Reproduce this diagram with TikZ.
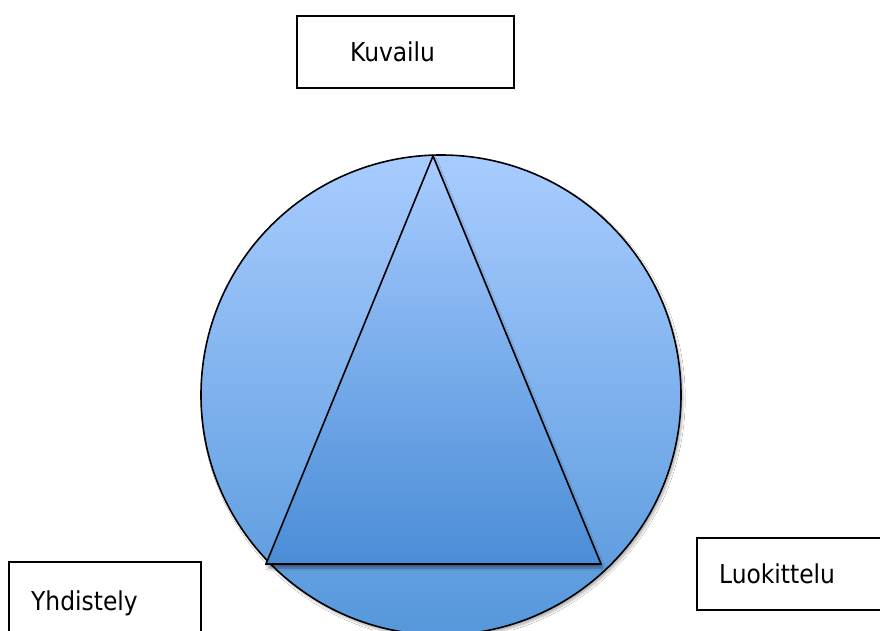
\documentclass[tikz,border=0pt]{standalone}
\usepackage{fontspec}
\setmainfont{DejaVu Sans Condensed}
\usetikzlibrary{shadows.blur}
\definecolor{topblue}{HTML}{A8CCFF}
\definecolor{circbot}{HTML}{5597DB}
\definecolor{tribot}{HTML}{4A8DD7}
\tikzset{
  labelbox/.style={draw=black, line width=1.6pt, fill=white},
  labeltext/.style={anchor=base west, inner sep=0pt, font=\fontsize{26}{30}\selectfont},
}
\begin{document}
\begin{tikzpicture}[x=1pt,y=1pt]
\useasboundingbox (0,0) rectangle (880,630);
\clip (0,0) rectangle (880,630);
\fill[white] (0,0) rectangle (880,630);
% circle
\shade[top color=topblue, bottom color=circbot, blur shadow={shadow xshift=2pt, shadow yshift=-3pt, shadow blur steps=6, shadow opacity=30}] (441,235) circle (240);
\draw[line width=1.6pt] (441,235) circle (240);
% triangle
\coordinate (apex) at (433,474);
\coordinate (bl) at (266,66);
\coordinate (br) at (601,66);
\shade[top color=topblue, bottom color=tribot, blur shadow={shadow xshift=2pt, shadow yshift=-4pt, shadow blur steps=6, shadow opacity=40}] (apex) -- (br) -- (bl) -- cycle;
\draw[line width=1.6pt, line join=miter] (apex) -- (br) -- (bl) -- cycle;
% boxes
\draw[labelbox] (297,542) rectangle (514,614);
\node[labeltext] (kuv) at (350,568) {Kuvailu};
\draw[labelbox] (697,20) rectangle (890,92);
\node[labeltext] (luo) at (719,47) {Luokittelu};
\draw[labelbox] (9,-20) rectangle (201,68);
\node[labeltext] (yhd) at (31,20) {Yhdistely};
\end{tikzpicture}
\end{document}
